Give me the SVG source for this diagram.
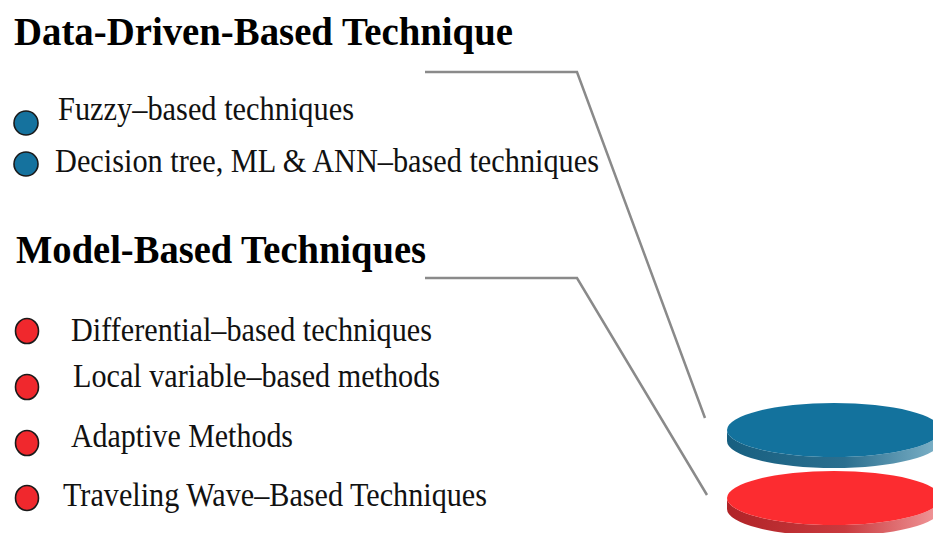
<svg xmlns="http://www.w3.org/2000/svg" width="933" height="533" viewBox="0 0 933 533">
<defs>
<style>
.title{font-family:"Liberation Serif","Times New Roman",serif;font-weight:bold;font-size:41px;fill:#000}
.item{font-family:"Liberation Serif","Times New Roman",serif;font-size:33px;fill:#111}
.bb{fill:#15729e;stroke:#1a1a1a;stroke-width:1.6}
.rb{fill:#f0282d;stroke:#1a1a1a;stroke-width:1.6}
.conn{fill:none;stroke:#8a8a8a;stroke-width:2.5;stroke-linejoin:miter}
</style>
<linearGradient id="gBlue" x1="0" y1="0" x2="1" y2="0">
<stop offset="0" stop-color="#175f80"/>
<stop offset="0.55" stop-color="#2b6f8f"/>
<stop offset="1" stop-color="#7fb3c9"/>
</linearGradient>
<linearGradient id="gRed" x1="0" y1="0" x2="1" y2="0">
<stop offset="0" stop-color="#b02327"/>
<stop offset="0.55" stop-color="#c93a3e"/>
<stop offset="1" stop-color="#f29a9c"/>
</linearGradient>
</defs>
<rect width="933" height="533" fill="#fff"/>

<g id="connectors">
<polyline class="conn" points="425,72 577,72 705,418"/>
<polyline class="conn" points="425,278 577,278 707,495"/>
</g>

<g id="data-driven">
<text class="title" x="14" y="45" textLength="499" lengthAdjust="spacingAndGlyphs">Data-Driven-Based Technique</text>
<ellipse class="bb" cx="26" cy="123" rx="12" ry="12"/>
<text class="item" x="58" y="120" textLength="296" lengthAdjust="spacingAndGlyphs">Fuzzy–based techniques</text>
<ellipse class="bb" cx="26" cy="164" rx="12" ry="12"/>
<text class="item" x="55" y="172" textLength="544" lengthAdjust="spacingAndGlyphs">Decision tree, ML &amp; ANN–based techniques</text>
</g>

<g id="model-based">
<text class="title" x="16" y="263" textLength="410" lengthAdjust="spacingAndGlyphs">Model-Based Techniques</text>
<ellipse class="rb" cx="27" cy="331" rx="11.5" ry="12.5"/>
<text class="item" x="71" y="341" textLength="361" lengthAdjust="spacingAndGlyphs">Differential–based techniques</text>
<ellipse class="rb" cx="27" cy="387" rx="11.5" ry="12.5"/>
<text class="item" x="73" y="387" textLength="367" lengthAdjust="spacingAndGlyphs">Local variable–based methods</text>
<ellipse class="rb" cx="27" cy="443" rx="11.5" ry="12.5"/>
<text class="item" x="71" y="447" textLength="222" lengthAdjust="spacingAndGlyphs">Adaptive Methods</text>
<ellipse class="rb" cx="27" cy="498" rx="11.5" ry="12.5"/>
<text class="item" x="63" y="506" textLength="424" lengthAdjust="spacingAndGlyphs">Traveling Wave–Based Techniques</text>
</g>

<g id="disk-blue">
<path d="M727,430 A107,27 0 0 0 941,430 L941,441 A107,27 0 0 1 727,441 Z" fill="url(#gBlue)"/>
<ellipse cx="834" cy="430" rx="107" ry="27" fill="#13729d"/>
</g>

<g id="disk-red">
<path d="M727,498 A107,27 0 0 0 941,498 L941,509 A107,27 0 0 1 727,509 Z" fill="url(#gRed)"/>
<ellipse cx="834" cy="498" rx="107" ry="27" fill="#fc2c30"/>
</g>
</svg>
